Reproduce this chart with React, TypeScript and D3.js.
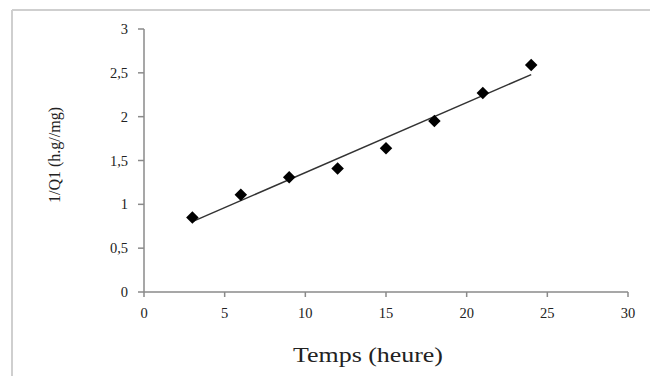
import React from "react";
import * as d3 from "d3";

const times = [3, 6, 9, 12, 15, 18, 21, 24];
const invQ = [0.85, 1.11, 1.31, 1.41, 1.64, 1.95, 2.27, 2.59];
const xTicks = [0, 5, 10, 15, 20, 25, 30];
const yTicks = [0, 0.5, 1, 1.5, 2, 2.5, 3];
const xTitle = "Temps (heure)";
const yTitle = "1/Q1 (h.g//mg)";

const fmt = (v: number) => String(v).replace(".", ",");

export default function App() {
  const W = 650, H = 376;
  const x = d3.scaleLinear().domain([0, 30]).range([144, 628]);
  const y = d3.scaleLinear().domain([0, 3]).range([292, 29]);

  const mx = d3.mean(times)!;
  const my = d3.mean(invQ)!;
  const slope =
    d3.sum(times.map((t, i) => (t - mx) * (invQ[i] - my))) /
    d3.sum(times.map((t) => (t - mx) ** 2));
  const icpt = my - slope * mx;
  const x0 = times[0], x1 = times[times.length - 1];
  const line = d3.line<number>().x((t) => x(t)).y((t) => y(icpt + slope * t));
  const diamond = d3.symbol().type(d3.symbolDiamond2).size(100)();
  const font = "'Liberation Serif', 'Times New Roman', serif";

  return (
    <svg width={W} height={H} style={{ position: "absolute", left: 0, top: 0 }} fontFamily={font}>
      <rect x={0} y={0} width={W} height={H} fill="#fff" />
      <line x1={12} y1={10} x2={W} y2={10} stroke="#cfcfcf" strokeWidth={2} />
      <line x1={12} y1={10} x2={12} y2={H} stroke="#cfcfcf" strokeWidth={2} />
      {/* axes */}
      <line x1={x(0)} y1={y(0)} x2={x(30)} y2={y(0)} stroke="#8a8a8a" strokeWidth={1.5} />
      <line x1={x(0)} y1={y(0)} x2={x(0)} y2={y(3)} stroke="#8a8a8a" strokeWidth={1.5} />
      {xTicks.map((t) => (
        <g key={"x" + t}>
          <line x1={x(t)} x2={x(t)} y1={y(0)} y2={y(0) + 5} stroke="#8a8a8a" strokeWidth={1.5} />
          <text x={x(t)} y={y(0) + 26} textAnchor="middle" fontSize={14.5} fill="#222">{fmt(t)}</text>
        </g>
      ))}
      {yTicks.map((t) => (
        <g key={"y" + t}>
          <line x1={x(0) - 6} x2={x(0)} y1={y(t)} y2={y(t)} stroke="#8a8a8a" strokeWidth={1.5} />
          <text x={x(0) - 16} y={y(t) + 5} textAnchor="end" fontSize={14.5} fill="#222">{fmt(t)}</text>
        </g>
      ))}
      <path d={line([x0, x1]) || ""} stroke="#333" strokeWidth={1.5} fill="none" />
      {times.map((t, i) => (
        <path key={t} d={diamond || ""} transform={`translate(${x(t)},${y(invQ[i])})`} fill="#000" />
      ))}
      <text x={368} y={362} textAnchor="middle" fontSize={20} textLength={150} lengthAdjust="spacingAndGlyphs" fill="#222">{xTitle}</text>
      <text transform="translate(60,155) rotate(-90)" textAnchor="middle" fontSize={16} fill="#222">{yTitle}</text>
    </svg>
  );
}
